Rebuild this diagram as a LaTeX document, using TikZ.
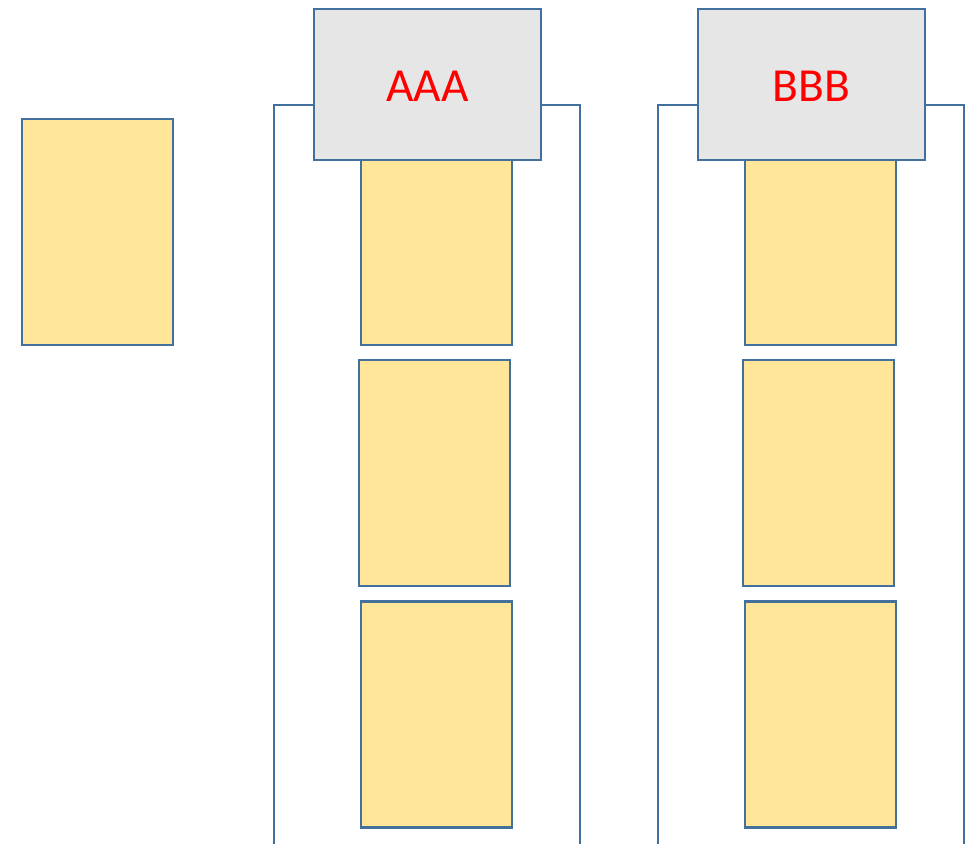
\documentclass[tikz,border=0pt]{standalone}
\usepackage{fontspec}
\setmainfont{Carlito}
\usepackage{tikz}
\usetikzlibrary{positioning}

\definecolor{edgeblue}{HTML}{41719C}
\definecolor{cardyellow}{HTML}{FFE699}
\definecolor{headgray}{HTML}{E6E6E6}

\begin{document}
\begin{tikzpicture}[x=0.02cm,y=-0.02cm,line width=1.25pt,
  card/.style={rectangle,draw=edgeblue,fill=cardyellow,inner sep=0pt,outer sep=0pt,
    minimum width=3.02cm,minimum height=4.52cm},
  head/.style={rectangle,draw=edgeblue,fill=headgray,inner sep=0pt,outer sep=0pt,
    minimum width=4.54cm,minimum height=3.02cm,text=red,font=\fontsize{27}{32}\selectfont,
    text height=20pt,text depth=1.2pt},
  frame/.style={draw=edgeblue}]

  \useasboundingbox (0,0) rectangle (967,844);

  % column outlines
  \draw[frame] (274,844) |- (580,105) -- (580,844);
  \draw[frame] (658,844) |- (964,105) -- (964,844);

  % loose card
  \node[card] (c0) at (97.5,232) {};

  % column A
  \node[card] (a1) at (436.5,232) {};
  \node[card] (a2) at (434.5,473) {};
  \node[card] (a3) at (436.5,714.5) {};
  \node[head] (ha) at (427.5,84.5) {AAA};

  % column B
  \node[card] (b1) at (820.5,232) {};
  \node[card] (b2) at (818.5,473) {};
  \node[card] (b3) at (820.5,714.5) {};
  \node[head] (hb) at (811.5,84.5) {BBB};

\end{tikzpicture}
\end{document}
